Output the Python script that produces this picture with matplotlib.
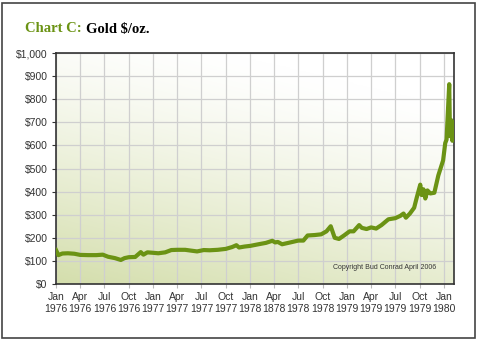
import numpy as np
import pandas as pd
import matplotlib.pyplot as plt
from matplotlib.patches import Rectangle

# gold price, $/oz
dates = ['1976-01-01', '1976-01-10', '1976-01-25', '1976-02-15', '1976-03-10', '1976-04-01',
         '1976-05-01', '1976-06-01', '1976-06-25', '1976-07-15', '1976-08-10', '1976-09-01',
         '1976-09-15', '1976-10-01', '1976-10-25', '1976-11-15', '1976-11-25', '1976-12-10',
         '1977-01-01', '1977-01-20', '1977-02-15', '1977-03-10', '1977-04-01', '1977-05-01',
         '1977-05-20', '1977-06-15', '1977-07-10', '1977-08-01', '1977-09-01', '1977-10-01',
         '1977-10-25', '1977-11-10', '1977-11-20', '1977-12-10', '1978-01-01', '1978-02-01',
         '1978-03-01', '1978-03-25', '1978-04-05', '1978-04-15', '1978-05-01', '1978-06-01',
         '1978-07-01', '1978-07-20', '1978-08-05', '1978-09-01', '1978-09-25', '1978-10-15',
         '1978-10-31', '1978-11-15', '1978-12-01', '1978-12-20', '1979-01-10', '1979-01-25',
         '1979-02-15', '1979-02-25', '1979-03-15', '1979-04-01', '1979-04-20', '1979-05-10',
         '1979-06-05', '1979-07-01', '1979-07-20', '1979-08-01', '1979-08-10', '1979-08-25',
         '1979-09-10', '1979-09-20', '1979-10-03', '1979-10-08', '1979-10-15', '1979-10-22',
         '1979-10-30', '1979-11-10', '1979-11-25', '1979-12-10', '1979-12-28', '1980-01-05',
         '1980-01-10', '1980-01-20', '1980-01-23', '1980-01-27', '1980-02-01', '1980-02-05']
prices = [147, 125, 132, 133, 131, 126,
          125, 125, 127, 118, 112, 104,
          112, 116, 117, 138, 127, 137,
          135, 133, 137, 147, 148, 148,
          145, 141, 147, 146, 148, 152,
          160, 168, 158, 162, 165, 172,
          178, 187, 180, 182, 172, 180,
          188, 188, 210, 212, 215, 228,
          250, 200, 195, 210, 228, 228,
          255, 243, 238, 245, 240, 255,
          280, 285, 295, 305, 287, 305,
          330, 375, 430, 385, 410, 370,
          405, 392, 395, 470, 535, 610,
          625, 865, 640, 710, 620, 700]

tick_dates = ['1976-01-01', '1976-04-01', '1976-07-01', '1976-10-01', '1977-01-01', '1977-04-01',
              '1977-07-01', '1977-10-01', '1978-01-01', '1978-04-01', '1978-07-01', '1978-10-01',
              '1979-01-01', '1979-04-01', '1979-07-01', '1979-10-01', '1980-01-01']
tick_labels = ['Jan\n1976', 'Apr\n1976', 'Jul\n1976', 'Oct\n1976', 'Jan\n1977', 'Apr\n1977',
               'Jul\n1977', 'Oct\n1977', 'Jan\n1978', 'Apr\n1878', 'Jul\n1978', 'Oct\n1978',
               'Jan\n1979', 'Apr\n1979', 'Jul\n1979', 'Oct\n1979', 'Jan\n1980']
y_ticks = list(range(0, 1001, 100))

green = '#6b9314'
label_font = ['Liberation Sans Narrow', 'Liberation Sans', 'DejaVu Sans']

x = pd.to_datetime(dates)
xt = pd.to_datetime(tick_dates)
x0, x1 = pd.Timestamp('1976-01-01'), pd.Timestamp('1980-02-07')

fig = plt.figure(figsize=(4.79, 3.41), dpi=100)
fig.patch.set_facecolor('white')
fig.add_artist(Rectangle((2 / 479, 3 / 341), 473 / 479, 335 / 341, transform=fig.transFigure,
                         fill=False, edgecolor='#444444', linewidth=1.2))

ax = fig.add_axes([56 / 479, 57 / 341, 398 / 479, 231 / 341])

# greenish gradient fading to white toward top-right
gx, gy = np.meshgrid(np.linspace(0, 1, 200), np.linspace(0, 1, 200))
t = np.clip(1 - (0.85 * gy + 0.35 * gx), 0, 1) ** 1.3
c_lo = np.array([212, 222, 172]) / 255
c_hi = np.array([255, 255, 255]) / 255
img = c_hi + (c_lo - c_hi) * t[..., None]
ax.imshow(img, extent=[0, 1, 0, 1], transform=ax.transAxes, origin='lower',
          aspect='auto', zorder=0)

ax.plot(x, prices, color=green, linewidth=3.0, solid_joinstyle='round', zorder=3)

ax.set_xlim(x0, x1)
ax.set_ylim(0, 1000)
ax.set_xticks(xt)
ax.set_xticklabels(tick_labels, fontsize=7.5, family=label_font, color='#333333', linespacing=1.2)
ax.set_yticks(y_ticks)
ax.set_yticklabels(['$0'] + ['${:,}'.format(v) for v in y_ticks[1:]],
                   fontsize=7.5, family=label_font, color='#333333')
ax.grid(True, color='#cfcfcf', linewidth=0.9, zorder=1)
ax.set_axisbelow(True)
ax.tick_params(axis='x', length=3, color='#bbbbbb', pad=3)
ax.tick_params(axis='y', length=3, color='#333333', pad=3)
for s in ax.spines.values():
    s.set_color('#333333')
    s.set_linewidth(1.2)

ax.text(0.955, 0.07, 'Copyright Bud Conrad April 2006', transform=ax.transAxes,
        ha='right', va='center', fontsize=5, color='#333333', family=label_font)

# title: green "Chart C:" followed by black "Gold $/oz."
t1 = fig.text(25 / 479, 1 - 29 / 341, 'Chart C:', color=green, fontsize=10.5, fontweight='bold',
              family='Liberation Serif', va='center', ha='left')
fig.canvas.draw()
bb = t1.get_window_extent()
fig.text((bb.x1 + 4) / 479, 1 - 29 / 341, 'Gold $/oz.', color='black', fontsize=10.5,
         fontweight='bold', family='Liberation Serif', va='center', ha='left')

fig.savefig('out.png', dpi=100)
